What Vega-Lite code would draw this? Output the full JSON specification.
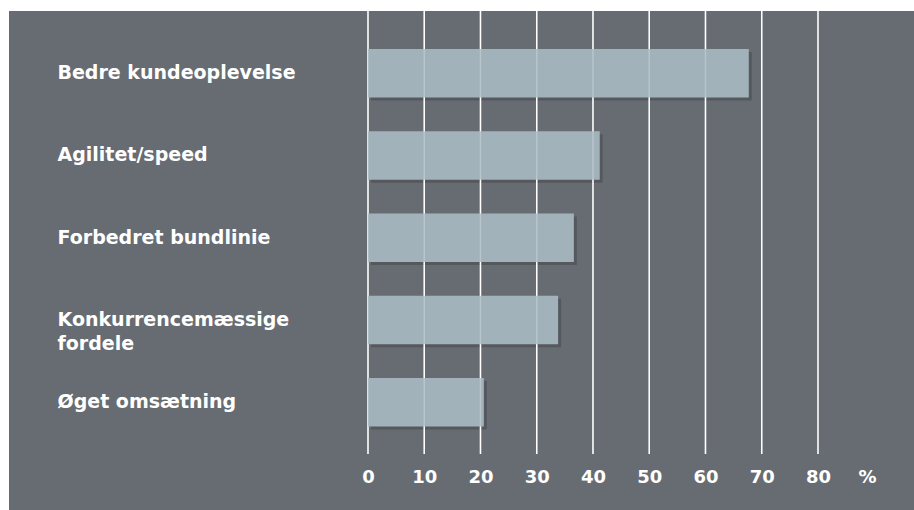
{
  "$schema": "https://vega.github.io/schema/vega-lite/v6.json",
  "width": 905,
  "height": 499,
  "autosize": {"type": "none"},
  "padding": {"left": 9, "top": 11, "right": 0, "bottom": 0},
  "background": "#ffffff",
  "config": {"view": {"fill": "#676c72", "stroke": null}, "font": "DejaVu Sans"},
  "datasets": {
    "bars": [
      {"label": "Bedre kundeoplevelse", "value": 67.7},
      {"label": "Agilitet/speed", "value": 41.2},
      {"label": "Forbedret bundlinie", "value": 36.6},
      {"label": "Konkurrencemæssige fordele", "value": 33.8},
      {"label": "Øget omsætning", "value": 20.6}
    ],
    "grid": [
      {"value": 0}, {"value": 10}, {"value": 20}, {"value": 30}, {"value": 40},
      {"value": 50}, {"value": 60}, {"value": 70}, {"value": 80}
    ]
  },
  "encoding": {
    "x": {
      "field": "value",
      "type": "quantitative",
      "scale": {"domain": [-63.82, 97.07], "nice": false, "zero": false},
      "axis": {
        "values": [0, 10, 20, 30, 40, 50, 60, 70, 80, 88.7],
        "labelExpr": "datum.value > 85 ? '%' : datum.label",
        "grid": false,
        "domain": false,
        "ticks": false,
        "offset": -56,
        "labelPadding": 14,
        "labelFont": "DejaVu Sans",
        "labelFontSize": 18,
        "labelFontWeight": "bold",
        "labelColor": "#ffffff",
        "labelFlush": false,
        "labelOverlap": false,
        "title": null
      }
    }
  },
  "layer": [
    {
      "data": {"name": "bars"},
      "mark": {"type": "bar", "color": "#2a2d31", "opacity": 0.3, "xOffset": 3, "x2Offset": 3, "yOffset": 3, "y2Offset": 3},
      "encoding": {
        "y": {"field": "label", "type": "nominal", "sort": null,
          "scale": {"paddingInner": 0.4116, "paddingOuter": 0.739, "align": 0.3125},
          "axis": null}
      }
    },
    {
      "data": {"name": "grid"},
      "mark": {"type": "rule", "color": "#ffffff", "strokeWidth": 1.5},
      "encoding": {
        "y": {"datum": 0.112, "type": "quantitative", "scale": {"domain": [0, 1], "nice": false}, "axis": null},
        "y2": {"datum": 1}
      }
    },
    {
      "data": {"name": "bars"},
      "mark": {"type": "bar", "color": "#a1b2ba"},
      "encoding": {
        "y": {"field": "label", "type": "nominal", "sort": null,
          "scale": {"paddingInner": 0.4116, "paddingOuter": 0.739, "align": 0.3125},
          "axis": {
            "title": null,
            "domain": false,
            "ticks": false,
            "tickSize": 0,
            "labelPadding": 0,
            "offset": -48,
            "labelAlign": "left",
            "labelBaseline": "middle",
            "labelLimit": 400,
            "labelFont": "DejaVu Sans",
            "labelFontSize": 19,
            "labelFontWeight": "bold",
            "labelColor": "#ffffff",
            "labelLineHeight": 24,
            "labelExpr": "datum.value == 'Konkurrencemæssige fordele' ? ['Konkurrencemæssige', 'fordele'] : datum.label"
          }
        }
      }
    },
    {
      "data": {"name": "grid"},
      "mark": {"type": "rule", "color": "#ffffff", "strokeWidth": 1.5, "opacity": 0.25},
      "encoding": {
        "y": {"datum": 0.112, "type": "quantitative", "scale": {"domain": [0, 1], "nice": false}, "axis": null},
        "y2": {"datum": 1}
      }
    }
  ],
  "resolve": {"scale": {"y": "independent"}, "axis": {"y": "independent"}}
}
